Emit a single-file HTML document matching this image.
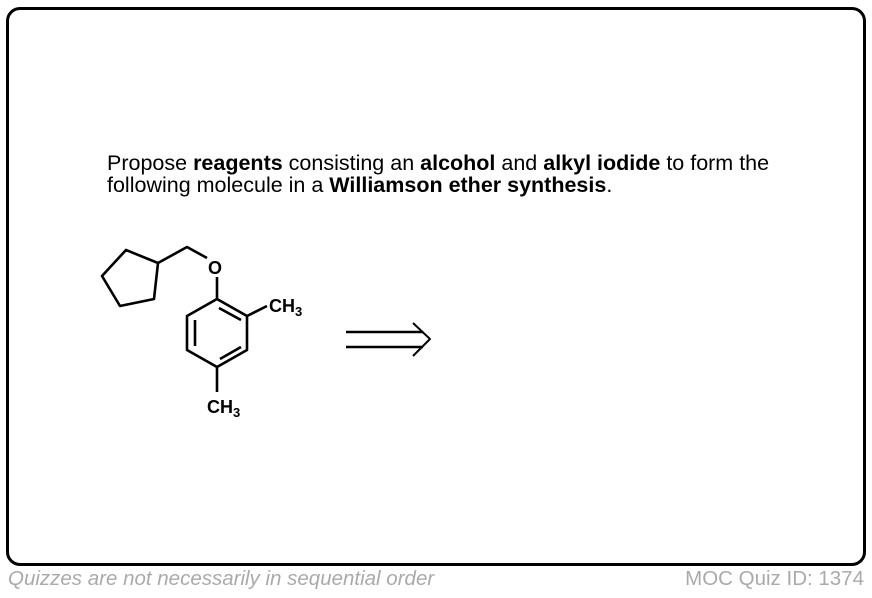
<!DOCTYPE html>
<html><head><meta charset="utf-8"><style>
body{margin:0;width:872px;height:598px;background:#fff;position:relative;overflow:hidden;font-family:"Liberation Sans",Arial,sans-serif}
.box{position:absolute;left:6px;top:7px;width:854px;height:553px;border:3px solid #000;border-radius:14px}
.q{position:absolute;left:107px;top:152px;font-size:21.5px;line-height:22px;color:#000;white-space:nowrap}
.f{position:absolute;top:567px;font-size:20.5px;color:#aaa;white-space:nowrap}
</style></head><body>
<div class="box"></div>
<div class="q">Propose <b>reagents</b> consisting an <b>alcohol</b> and <b>alkyl iodide</b> to form the<br>following molecule in a <b>Williamson ether synthesis</b>.</div>
<svg width="872" height="598" style="position:absolute;left:0;top:0" font-family="Liberation Sans, Arial, sans-serif">
<g stroke="#000" stroke-width="2.6" fill="none" stroke-linejoin="round">
<polygon points="102,276 126,250 158,263 154,299 120,306"/>
<polyline points="158,263 187,247 207,258"/>
<line x1="217" y1="277" x2="217" y2="299"/>
<polygon points="217,299 247,316 247,350 217,367 187,350 187,316"/>
<line x1="219" y1="308" x2="241" y2="320"/>
<line x1="195" y1="320" x2="195" y2="346"/>
<line x1="220" y1="359" x2="241" y2="347"/>
<line x1="247" y1="316" x2="267" y2="306"/>
<line x1="217" y1="367" x2="217" y2="392"/>
<line x1="346" y1="332" x2="423" y2="332"/>
<line x1="346" y1="347" x2="423" y2="347"/>
<polyline points="413,323 430,339 413,356" stroke-width="2"/>
</g>
<g font-weight="bold" font-size="18" fill="#000">
<text x="208" y="274">O</text>
<text x="269" y="312">CH<tspan font-size="13" dy="4">3</tspan></text>
<text x="207" y="413">CH<tspan font-size="13" dy="4">3</tspan></text>
</g>
</svg>
<div class="f" style="left:8px;font-style:italic">Quizzes are not necessarily in sequential order</div>
<div class="f" style="right:8px">MOC Quiz ID: 1374</div>
</body></html>
